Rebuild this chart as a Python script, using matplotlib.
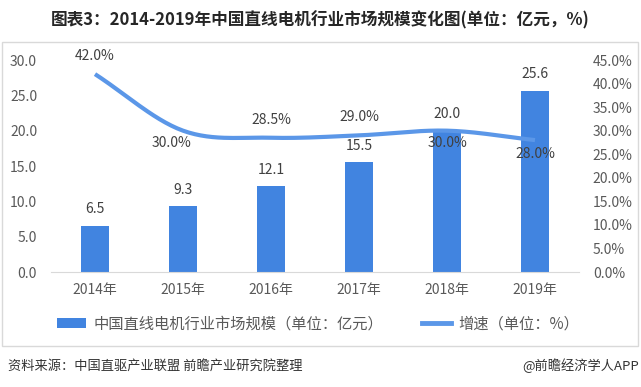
import numpy as np
import matplotlib
matplotlib.use("Agg")
import matplotlib.pyplot as plt
from matplotlib.patches import Rectangle, Patch
from matplotlib.lines import Line2D

plt.rcParams['font.family'] = ['Noto Sans CJK SC', 'DejaVu Sans']

years = ["2014年", "2015年", "2016年", "2017年", "2018年", "2019年"]
market_size = [6.5, 9.3, 12.1, 15.5, 20.0, 25.6]
growth = [42.0, 30.0, 28.5, 29.0, 30.0, 28.0]
left_ticks = [0, 5, 10, 15, 20, 25, 30]
right_ticks = [0, 5, 10, 15, 20, 25, 30, 35, 40, 45]

title = "图表3：2014-2019年中国直线电机行业市场规模变化图(单位：亿元，%)"
bar_label = "中国直线电机行业市场规模（单位：亿元）"
line_label = "增速（单位：%）"
source = "资料来源：中国直驱产业联盟 前瞻产业研究院整理"
credit = "@前瞻经济学人APP"

BAR_COLOR = "#4184e0"
LINE_COLOR = "#5b97e8"
TEXT = "#595959"
LABEL = "#404040"

W, H = 641, 387
fig = plt.figure(figsize=(W / 100, H / 100), dpi=100)

def fx(px):
    return px / W

def fy(py):
    return 1 - py / H

ax = fig.add_axes([fx(51), fy(272), fx(579) - fx(51), fy(60) - fy(272)])
ax2 = ax.twinx()

x = np.arange(len(years))
bars = ax.bar(x, market_size, width=0.32, color=BAR_COLOR, zorder=2)
ax.set_xlim(-0.5, len(years) - 0.5)
ax.set_ylim(0, 30)
ax.set_yticks(left_ticks)
ax.set_yticklabels([f"{v:.1f}" for v in left_ticks])
ax.set_xticks(x)
ax.set_xticklabels(years)
ax.tick_params(axis='both', length=0, labelsize=10, labelcolor=TEXT)
ax.tick_params(axis='y', pad=10)
ax.tick_params(axis='x', pad=8)
for s in ['top', 'left', 'right']:
    ax.spines[s].set_visible(False)
ax.spines['bottom'].set_color("#d9d9d9")

for xi, v in zip(x, market_size):
    ax.annotate(f"{v:.1f}", (xi, v), xytext=(0, 7), textcoords='offset points',
                ha='center', va='bottom', fontsize=10, color=LABEL)

# Smoothed line (Catmull-Rom through the data points)
def catmull_rom(xs, ys, n=30):
    px = np.concatenate([[2 * xs[0] - xs[1]], xs, [2 * xs[-1] - xs[-2]]])
    py = np.concatenate([[2 * ys[0] - ys[1]], ys, [2 * ys[-1] - ys[-2]]])
    outx, outy = [], []
    for i in range(1, len(px) - 2):
        t = np.linspace(0, 1, n, endpoint=(i == len(px) - 3))
        for arr, out in ((px, outx), (py, outy)):
            p0, p1, p2, p3 = arr[i - 1], arr[i], arr[i + 1], arr[i + 2]
            out.extend(0.5 * ((2 * p1) + (-p0 + p2) * t +
                              (2 * p0 - 5 * p1 + 4 * p2 - p3) * t ** 2 +
                              (-p0 + 3 * p1 - 3 * p2 + p3) * t ** 3))
    return np.array(outx), np.array(outy)

sx, sy = catmull_rom(x.astype(float), np.array(growth, dtype=float))
ax2.plot(sx, sy, color=LINE_COLOR, lw=3.0, solid_capstyle='butt', zorder=3)
ax2.set_ylim(0, 45)
ax2.set_yticks(right_ticks)
ax2.set_yticklabels([f"{v:.1f}%" for v in right_ticks])
ax2.tick_params(axis='y', length=0, labelsize=10, labelcolor=TEXT, pad=10)
for s in ['top', 'left', 'right', 'bottom']:
    ax2.spines[s].set_visible(False)

line_offsets = [(0, 13), (-8, -9), (0, 13), (0, 13), (0, -9), (0, -10)]
for xi, v, (dx, dy) in zip(x, growth, line_offsets):
    ax2.annotate(f"{v:.1f}%", (xi, v), xytext=(dx, dy), textcoords='offset points',
                 ha='center', va='center', fontsize=10, color=LABEL, zorder=4)

# frame
fig.patches.append(Rectangle((fx(2), fy(346)), fx(638) - fx(2), fy(42) - fy(346),
                             transform=fig.transFigure, fill=False,
                             edgecolor="#d9d9d9", lw=1))

fig.text(0.5, fy(20), title, ha='center', va='center', fontsize=12,
         fontweight='bold', color="#262626")

handles = [Patch(facecolor=BAR_COLOR, edgecolor='none'),
           Line2D([0], [0], color=LINE_COLOR, lw=3.5)]
leg = fig.legend(handles, [bar_label, line_label], loc='center',
                 bbox_to_anchor=(fx(318), fy(324)), ncol=2, frameon=False,
                 fontsize=11, handlelength=1.9, handleheight=0.6,
                 columnspacing=2.5, handletextpad=0.5)
for t in leg.get_texts():
    t.set_color(TEXT)

fig.text(fx(8), fy(366), source, ha='left', va='center', fontsize=9.5, color="#333333")
fig.text(fx(639), fy(366), credit, ha='right', va='center', fontsize=9.5, color="#333333")

fig.savefig("out.png", dpi=100)
